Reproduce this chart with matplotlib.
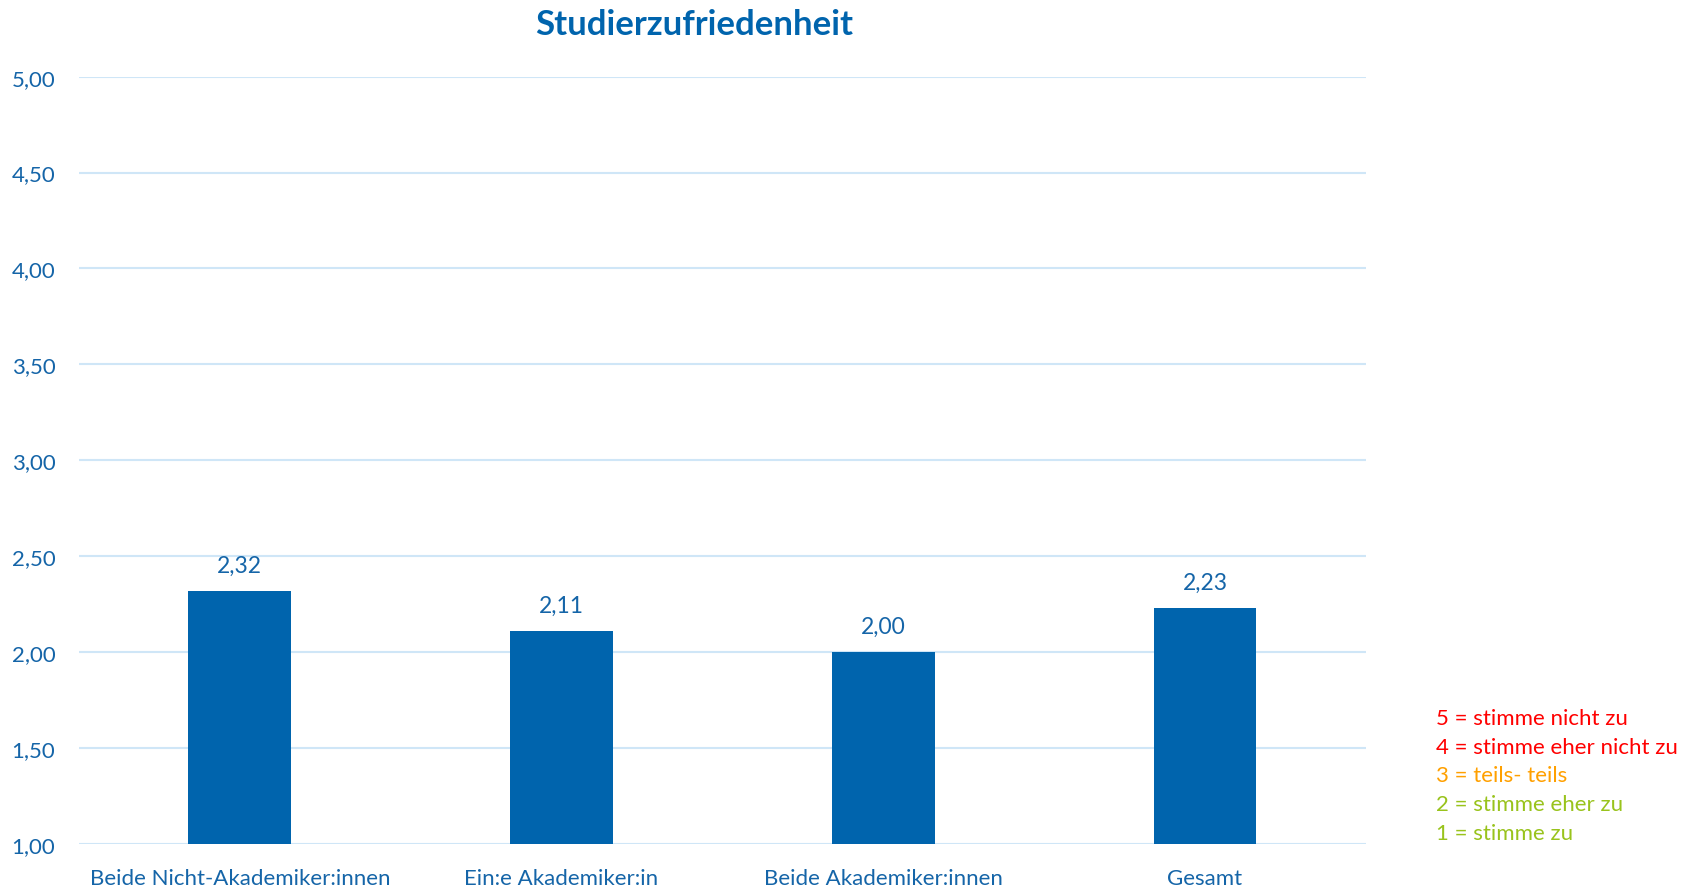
import matplotlib.pyplot as plt
import numpy as np

categories = ["Beide Nicht-Akademiker:innen", "Ein:e Akademiker:in", "Beide Akademiker:innen", "Gesamt"]
values = [2.32, 2.11, 2.00, 2.23]
y_ticks = [1.0, 1.5, 2.0, 2.5, 3.0, 3.5, 4.0, 4.5, 5.0]
scale_labels = ["5 = stimme nicht zu", "4 = stimme eher nicht zu", "3 = teils- teils",
                "2 = stimme eher zu", "1 = stimme zu"]
scale_colors = ["#FF0000", "#FF0000", "#FFA000", "#99C31C", "#99C31C"]

blue = "#0064AD"
text_blue = "#1565A8"
grid_blue = "#CFE6F7"

plt.rcParams['font.family'] = ['Lato', 'DejaVu Sans']

fig = plt.figure(figsize=(16.9, 8.87), dpi=100)
ax = fig.add_axes([0.0467, 0.0474, 0.7615, 0.8651])

x = np.arange(len(categories))
bars = ax.bar(x, values, width=0.32, color=blue, zorder=3)
for xi, v in zip(x, values):
    ax.annotate(f"{v:.2f}".replace(".", ","), (xi, v), xytext=(0, 11), textcoords="offset points",
                ha="center", va="bottom", fontsize=16.5, color=text_blue)

ax.set_xlim(-0.5, len(categories) - 0.5)
ax.set_ylim(1, 5)
ax.set_yticks(y_ticks)
ax.set_yticklabels([f"{t:.2f}".replace(".", ",") for t in y_ticks])
ax.set_xticks(x)
ax.set_xticklabels(categories)
ax.tick_params(axis="both", length=0, labelsize=16, labelcolor=text_blue)
ax.tick_params(axis="x", pad=17)
ax.tick_params(axis="y", pad=17)
ax.yaxis.grid(True, color=grid_blue, linewidth=1.5, zorder=0)
for s in ax.spines.values():
    s.set_visible(False)

fig.text(0.411, 0.972, "Studierzufriedenheit", ha="center", va="center",
         fontsize=25, fontweight="bold", color=blue)

for i, (lab, col) in enumerate(zip(scale_labels, scale_colors)):
    fig.text(0.850, 0.189 - i * 0.0322, lab, ha="left", va="center", fontsize=16, color=col)

fig.savefig("out.png", dpi=100)
